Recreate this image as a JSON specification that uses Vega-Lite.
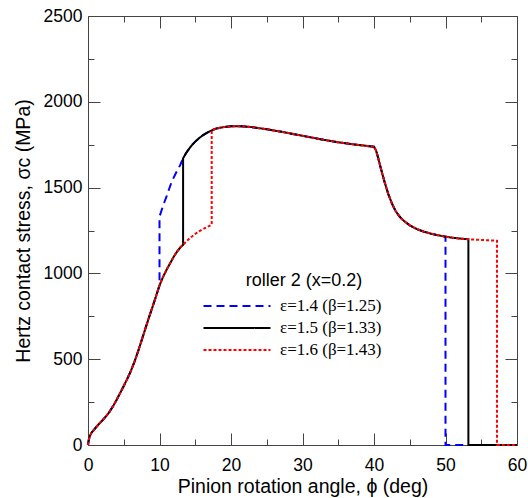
{
  "$schema": "https://vega.github.io/schema/vega-lite/v6.json",
  "width": 429,
  "height": 429,
  "autosize": "none",
  "padding": {"left": 88, "top": 16, "right": 11, "bottom": 53},
  "background": "white",
  "config": {"view": {"stroke": null}, "font": "Liberation Sans"},
  "datasets": {
    "curves": [
      {"s":"ε=1.4 (β=1.25)","x":0,"y":0},{"s":"ε=1.4 (β=1.25)","x":0.1,"y":28},{"s":"ε=1.4 (β=1.25)","x":0.25,"y":52},{"s":"ε=1.4 (β=1.25)","x":0.5,"y":72},{"s":"ε=1.4 (β=1.25)","x":1,"y":97},{"s":"ε=1.4 (β=1.25)","x":1.5,"y":121},{"s":"ε=1.4 (β=1.25)","x":2,"y":143},{"s":"ε=1.4 (β=1.25)","x":2.5,"y":166},{"s":"ε=1.4 (β=1.25)","x":3,"y":193},{"s":"ε=1.4 (β=1.25)","x":3.5,"y":226},{"s":"ε=1.4 (β=1.25)","x":4,"y":263},{"s":"ε=1.4 (β=1.25)","x":4.5,"y":303},{"s":"ε=1.4 (β=1.25)","x":5,"y":344},{"s":"ε=1.4 (β=1.25)","x":5.5,"y":386},{"s":"ε=1.4 (β=1.25)","x":6,"y":432},{"s":"ε=1.4 (β=1.25)","x":6.5,"y":485},{"s":"ε=1.4 (β=1.25)","x":7,"y":545},{"s":"ε=1.4 (β=1.25)","x":7.5,"y":610},{"s":"ε=1.4 (β=1.25)","x":8,"y":675},{"s":"ε=1.4 (β=1.25)","x":8.5,"y":740},{"s":"ε=1.4 (β=1.25)","x":9,"y":802},{"s":"ε=1.4 (β=1.25)","x":9.5,"y":865},{"s":"ε=1.4 (β=1.25)","x":10,"y":930},
      {"s":"ε=1.4 (β=1.25)","x":10,"y":1330},{"s":"ε=1.4 (β=1.25)","x":10.5,"y":1395},{"s":"ε=1.4 (β=1.25)","x":11,"y":1450},{"s":"ε=1.4 (β=1.25)","x":11.7,"y":1534},{"s":"ε=1.4 (β=1.25)","x":12.3,"y":1585},{"s":"ε=1.4 (β=1.25)","x":12.9,"y":1632},{"s":"ε=1.4 (β=1.25)","x":13.3,"y":1671},
      {"s":"ε=1.4 (β=1.25)","x":13.7,"y":1700},{"s":"ε=1.4 (β=1.25)","x":14,"y":1718},{"s":"ε=1.4 (β=1.25)","x":14.5,"y":1746},{"s":"ε=1.4 (β=1.25)","x":15,"y":1768},{"s":"ε=1.4 (β=1.25)","x":15.5,"y":1787},{"s":"ε=1.4 (β=1.25)","x":16,"y":1803},{"s":"ε=1.4 (β=1.25)","x":16.5,"y":1816},{"s":"ε=1.4 (β=1.25)","x":17,"y":1827},{"s":"ε=1.4 (β=1.25)","x":17.3,"y":1834},{"s":"ε=1.4 (β=1.25)","x":18,"y":1845},{"s":"ε=1.4 (β=1.25)","x":19,"y":1853},{"s":"ε=1.4 (β=1.25)","x":20,"y":1857},{"s":"ε=1.4 (β=1.25)","x":21,"y":1858},{"s":"ε=1.4 (β=1.25)","x":22,"y":1856},{"s":"ε=1.4 (β=1.25)","x":23,"y":1852},{"s":"ε=1.4 (β=1.25)","x":25,"y":1840},{"s":"ε=1.4 (β=1.25)","x":27.5,"y":1822},{"s":"ε=1.4 (β=1.25)","x":30,"y":1802},{"s":"ε=1.4 (β=1.25)","x":32.5,"y":1782},{"s":"ε=1.4 (β=1.25)","x":35,"y":1764},{"s":"ε=1.4 (β=1.25)","x":37.5,"y":1750},{"s":"ε=1.4 (β=1.25)","x":39,"y":1743},{"s":"ε=1.4 (β=1.25)","x":40,"y":1738},{"s":"ε=1.4 (β=1.25)","x":40.3,"y":1715},{"s":"ε=1.4 (β=1.25)","x":40.6,"y":1670},{"s":"ε=1.4 (β=1.25)","x":41,"y":1605},{"s":"ε=1.4 (β=1.25)","x":41.5,"y":1530},{"s":"ε=1.4 (β=1.25)","x":42,"y":1462},{"s":"ε=1.4 (β=1.25)","x":42.5,"y":1408},{"s":"ε=1.4 (β=1.25)","x":43,"y":1365},{"s":"ε=1.4 (β=1.25)","x":43.5,"y":1335},{"s":"ε=1.4 (β=1.25)","x":44,"y":1312},{"s":"ε=1.4 (β=1.25)","x":45,"y":1280},{"s":"ε=1.4 (β=1.25)","x":46,"y":1258},{"s":"ε=1.4 (β=1.25)","x":47,"y":1243},{"s":"ε=1.4 (β=1.25)","x":48,"y":1231},{"s":"ε=1.4 (β=1.25)","x":49,"y":1222},{"s":"ε=1.4 (β=1.25)","x":50,"y":1214},{"s":"ε=1.4 (β=1.25)","x":50,"y":0},{"s":"ε=1.4 (β=1.25)","x":60,"y":0},

      {"s":"ε=1.5 (β=1.33)","x":0,"y":0},{"s":"ε=1.5 (β=1.33)","x":0.1,"y":28},{"s":"ε=1.5 (β=1.33)","x":0.25,"y":52},{"s":"ε=1.5 (β=1.33)","x":0.5,"y":72},{"s":"ε=1.5 (β=1.33)","x":1,"y":97},{"s":"ε=1.5 (β=1.33)","x":1.5,"y":121},{"s":"ε=1.5 (β=1.33)","x":2,"y":143},{"s":"ε=1.5 (β=1.33)","x":2.5,"y":166},{"s":"ε=1.5 (β=1.33)","x":3,"y":193},{"s":"ε=1.5 (β=1.33)","x":3.5,"y":226},{"s":"ε=1.5 (β=1.33)","x":4,"y":263},{"s":"ε=1.5 (β=1.33)","x":4.5,"y":303},{"s":"ε=1.5 (β=1.33)","x":5,"y":344},{"s":"ε=1.5 (β=1.33)","x":5.5,"y":386},{"s":"ε=1.5 (β=1.33)","x":6,"y":432},{"s":"ε=1.5 (β=1.33)","x":6.5,"y":485},{"s":"ε=1.5 (β=1.33)","x":7,"y":545},{"s":"ε=1.5 (β=1.33)","x":7.5,"y":610},{"s":"ε=1.5 (β=1.33)","x":8,"y":675},{"s":"ε=1.5 (β=1.33)","x":8.5,"y":740},{"s":"ε=1.5 (β=1.33)","x":9,"y":802},{"s":"ε=1.5 (β=1.33)","x":9.5,"y":865},{"s":"ε=1.5 (β=1.33)","x":10,"y":930},
      {"s":"ε=1.5 (β=1.33)","x":10.5,"y":980},{"s":"ε=1.5 (β=1.33)","x":11,"y":1022},{"s":"ε=1.5 (β=1.33)","x":11.5,"y":1060},{"s":"ε=1.5 (β=1.33)","x":12,"y":1098},{"s":"ε=1.5 (β=1.33)","x":12.5,"y":1130},{"s":"ε=1.5 (β=1.33)","x":13,"y":1155},{"s":"ε=1.5 (β=1.33)","x":13.3,"y":1166},{"s":"ε=1.5 (β=1.33)","x":13.3,"y":1671},
      {"s":"ε=1.5 (β=1.33)","x":13.7,"y":1700},{"s":"ε=1.5 (β=1.33)","x":14,"y":1718},{"s":"ε=1.5 (β=1.33)","x":14.5,"y":1746},{"s":"ε=1.5 (β=1.33)","x":15,"y":1768},{"s":"ε=1.5 (β=1.33)","x":15.5,"y":1787},{"s":"ε=1.5 (β=1.33)","x":16,"y":1803},{"s":"ε=1.5 (β=1.33)","x":16.5,"y":1816},{"s":"ε=1.5 (β=1.33)","x":17,"y":1827},{"s":"ε=1.5 (β=1.33)","x":17.3,"y":1834},{"s":"ε=1.5 (β=1.33)","x":18,"y":1845},{"s":"ε=1.5 (β=1.33)","x":19,"y":1853},{"s":"ε=1.5 (β=1.33)","x":20,"y":1857},{"s":"ε=1.5 (β=1.33)","x":21,"y":1858},{"s":"ε=1.5 (β=1.33)","x":22,"y":1856},{"s":"ε=1.5 (β=1.33)","x":23,"y":1852},{"s":"ε=1.5 (β=1.33)","x":25,"y":1840},{"s":"ε=1.5 (β=1.33)","x":27.5,"y":1822},{"s":"ε=1.5 (β=1.33)","x":30,"y":1802},{"s":"ε=1.5 (β=1.33)","x":32.5,"y":1782},{"s":"ε=1.5 (β=1.33)","x":35,"y":1764},{"s":"ε=1.5 (β=1.33)","x":37.5,"y":1750},{"s":"ε=1.5 (β=1.33)","x":39,"y":1743},{"s":"ε=1.5 (β=1.33)","x":40,"y":1738},{"s":"ε=1.5 (β=1.33)","x":40.3,"y":1715},{"s":"ε=1.5 (β=1.33)","x":40.6,"y":1670},{"s":"ε=1.5 (β=1.33)","x":41,"y":1605},{"s":"ε=1.5 (β=1.33)","x":41.5,"y":1530},{"s":"ε=1.5 (β=1.33)","x":42,"y":1462},{"s":"ε=1.5 (β=1.33)","x":42.5,"y":1408},{"s":"ε=1.5 (β=1.33)","x":43,"y":1365},{"s":"ε=1.5 (β=1.33)","x":43.5,"y":1335},{"s":"ε=1.5 (β=1.33)","x":44,"y":1312},{"s":"ε=1.5 (β=1.33)","x":45,"y":1280},{"s":"ε=1.5 (β=1.33)","x":46,"y":1258},{"s":"ε=1.5 (β=1.33)","x":47,"y":1243},{"s":"ε=1.5 (β=1.33)","x":48,"y":1231},{"s":"ε=1.5 (β=1.33)","x":49,"y":1222},{"s":"ε=1.5 (β=1.33)","x":50,"y":1214},{"s":"ε=1.5 (β=1.33)","x":51,"y":1208},{"s":"ε=1.5 (β=1.33)","x":52,"y":1203},{"s":"ε=1.5 (β=1.33)","x":53.2,"y":1199},{"s":"ε=1.5 (β=1.33)","x":53.2,"y":0},{"s":"ε=1.5 (β=1.33)","x":60,"y":0},

      {"s":"ε=1.6 (β=1.43)","x":0,"y":0},{"s":"ε=1.6 (β=1.43)","x":0.1,"y":28},{"s":"ε=1.6 (β=1.43)","x":0.25,"y":52},{"s":"ε=1.6 (β=1.43)","x":0.5,"y":72},{"s":"ε=1.6 (β=1.43)","x":1,"y":97},{"s":"ε=1.6 (β=1.43)","x":1.5,"y":121},{"s":"ε=1.6 (β=1.43)","x":2,"y":143},{"s":"ε=1.6 (β=1.43)","x":2.5,"y":166},{"s":"ε=1.6 (β=1.43)","x":3,"y":193},{"s":"ε=1.6 (β=1.43)","x":3.5,"y":226},{"s":"ε=1.6 (β=1.43)","x":4,"y":263},{"s":"ε=1.6 (β=1.43)","x":4.5,"y":303},{"s":"ε=1.6 (β=1.43)","x":5,"y":344},{"s":"ε=1.6 (β=1.43)","x":5.5,"y":386},{"s":"ε=1.6 (β=1.43)","x":6,"y":432},{"s":"ε=1.6 (β=1.43)","x":6.5,"y":485},{"s":"ε=1.6 (β=1.43)","x":7,"y":545},{"s":"ε=1.6 (β=1.43)","x":7.5,"y":610},{"s":"ε=1.6 (β=1.43)","x":8,"y":675},{"s":"ε=1.6 (β=1.43)","x":8.5,"y":740},{"s":"ε=1.6 (β=1.43)","x":9,"y":802},{"s":"ε=1.6 (β=1.43)","x":9.5,"y":865},{"s":"ε=1.6 (β=1.43)","x":10,"y":930},
      {"s":"ε=1.6 (β=1.43)","x":10.5,"y":980},{"s":"ε=1.6 (β=1.43)","x":11,"y":1022},{"s":"ε=1.6 (β=1.43)","x":11.5,"y":1060},{"s":"ε=1.6 (β=1.43)","x":12,"y":1098},{"s":"ε=1.6 (β=1.43)","x":12.5,"y":1130},{"s":"ε=1.6 (β=1.43)","x":13,"y":1155},{"s":"ε=1.6 (β=1.43)","x":13.3,"y":1166},
      {"s":"ε=1.6 (β=1.43)","x":13.6,"y":1180},{"s":"ε=1.6 (β=1.43)","x":14,"y":1196},{"s":"ε=1.6 (β=1.43)","x":14.5,"y":1214},{"s":"ε=1.6 (β=1.43)","x":15,"y":1230},{"s":"ε=1.6 (β=1.43)","x":15.5,"y":1244},{"s":"ε=1.6 (β=1.43)","x":16,"y":1256},{"s":"ε=1.6 (β=1.43)","x":16.5,"y":1267},{"s":"ε=1.6 (β=1.43)","x":17,"y":1277},{"s":"ε=1.6 (β=1.43)","x":17.3,"y":1284},{"s":"ε=1.6 (β=1.43)","x":17.3,"y":1834},
      {"s":"ε=1.6 (β=1.43)","x":18,"y":1845},{"s":"ε=1.6 (β=1.43)","x":19,"y":1853},{"s":"ε=1.6 (β=1.43)","x":20,"y":1857},{"s":"ε=1.6 (β=1.43)","x":21,"y":1858},{"s":"ε=1.6 (β=1.43)","x":22,"y":1856},{"s":"ε=1.6 (β=1.43)","x":23,"y":1852},{"s":"ε=1.6 (β=1.43)","x":25,"y":1840},{"s":"ε=1.6 (β=1.43)","x":27.5,"y":1822},{"s":"ε=1.6 (β=1.43)","x":30,"y":1802},{"s":"ε=1.6 (β=1.43)","x":32.5,"y":1782},{"s":"ε=1.6 (β=1.43)","x":35,"y":1764},{"s":"ε=1.6 (β=1.43)","x":37.5,"y":1750},{"s":"ε=1.6 (β=1.43)","x":39,"y":1743},{"s":"ε=1.6 (β=1.43)","x":40,"y":1738},{"s":"ε=1.6 (β=1.43)","x":40.3,"y":1715},{"s":"ε=1.6 (β=1.43)","x":40.6,"y":1670},{"s":"ε=1.6 (β=1.43)","x":41,"y":1605},{"s":"ε=1.6 (β=1.43)","x":41.5,"y":1530},{"s":"ε=1.6 (β=1.43)","x":42,"y":1462},{"s":"ε=1.6 (β=1.43)","x":42.5,"y":1408},{"s":"ε=1.6 (β=1.43)","x":43,"y":1365},{"s":"ε=1.6 (β=1.43)","x":43.5,"y":1335},{"s":"ε=1.6 (β=1.43)","x":44,"y":1312},{"s":"ε=1.6 (β=1.43)","x":45,"y":1280},{"s":"ε=1.6 (β=1.43)","x":46,"y":1258},{"s":"ε=1.6 (β=1.43)","x":47,"y":1243},{"s":"ε=1.6 (β=1.43)","x":48,"y":1231},{"s":"ε=1.6 (β=1.43)","x":49,"y":1222},{"s":"ε=1.6 (β=1.43)","x":50,"y":1214},{"s":"ε=1.6 (β=1.43)","x":51,"y":1208},{"s":"ε=1.6 (β=1.43)","x":52,"y":1203},{"s":"ε=1.6 (β=1.43)","x":53.2,"y":1199},{"s":"ε=1.6 (β=1.43)","x":54,"y":1197},{"s":"ε=1.6 (β=1.43)","x":55,"y":1195},{"s":"ε=1.6 (β=1.43)","x":56,"y":1193},{"s":"ε=1.6 (β=1.43)","x":57.2,"y":1190},{"s":"ε=1.6 (β=1.43)","x":57.2,"y":0},{"s":"ε=1.6 (β=1.43)","x":60,"y":0}
    ]
  },
  "data": {"name": "curves"},
  "layer": [
    {
      "mark": {"type": "line", "strokeWidth": 2},
      "encoding": {
        "x": {
          "field": "x", "type": "quantitative",
          "scale": {"domain": [0, 60], "nice": false, "zero": false},
          "axis": {
            "orient": "bottom",
            "values": [0,5,10,15,20,25,30,35,40,45,50,55,60],
            "labelExpr": "datum.value % 10 === 0 ? datum.label : ''",
            "tickSize": {"condition": {"test": "datum.value % 10 === 0", "value": -12}, "value": -6},
            "labelPadding": 23,
            "labelFlush": false,
            "labelFont": "Liberation Sans", "labelFontSize": 17.5, "labelColor": "black",
            "domainColor": "#444", "tickColor": "#444",
            "grid": false,
            "title": "Pinion rotation angle, ϕ (deg)",
            "titleFont": "Liberation Sans", "titleFontSize": 19.5, "titleFontWeight": "normal", "titleColor": "black",
            "titlePadding": 4
          }
        },
        "y": {
          "field": "y", "type": "quantitative",
          "scale": {"domain": [0, 2500], "nice": false},
          "axis": {
            "orient": "left",
            "values": [0,250,500,750,1000,1250,1500,1750,2000,2250,2500],
            "format": "d",
            "labelExpr": "datum.value % 500 === 0 ? datum.label : ''",
            "tickSize": {"condition": {"test": "datum.value % 500 === 0", "value": -12}, "value": -6},
            "labelPadding": 18,
            "labelFlush": false,
            "labelFont": "Liberation Sans", "labelFontSize": 17.5, "labelColor": "black",
            "domainColor": "#444", "tickColor": "#444",
            "grid": false,
            "title": "Hertz contact stress, σc (MPa)",
            "titleFont": "Liberation Sans", "titleFontSize": 19.5, "titleFontWeight": "normal", "titleColor": "black",
            "titlePadding": 10
          }
        },
        "color": {
          "field": "s", "type": "nominal",
          "scale": {"domain": ["ε=1.4 (β=1.25)", "ε=1.5 (β=1.33)", "ε=1.6 (β=1.43)"], "range": ["#0000ff", "#000000", "#ff0000"]},
          "legend": {
            "title": "roller 2 (x=0.2)",
            "orient": "none", "legendX": 138, "legendY": 256,
            "padding": 0,
            "titleAnchor": "middle",
            "titleFont": "Liberation Sans", "titleFontSize": 18, "titleFontWeight": "normal", "titleColor": "black",
            "titlePadding": 5,
            "labelFont": "Liberation Serif", "labelFontSize": 17, "labelColor": "black", "labelLimit": 300,
            "symbolType": "M-3.35,0H3.35", "symbolSize": 400, "symbolStrokeWidth": 2,
            "labelOffset": 32, "rowPadding": 3
          }
        },
        "strokeDash": {
          "field": "s", "type": "nominal",
          "scale": {"domain": ["ε=1.4 (β=1.25)", "ε=1.5 (β=1.33)", "ε=1.6 (β=1.43)"], "range": [[8, 5], [1, 0], [3, 2]]}
        },
        "order": {"value": null}
      }
    },
    {
      "mark": {"type": "point", "opacity": 0},
      "encoding": {
        "x": {
          "field": "x", "type": "quantitative",
          "axis": {
            "orient": "top",
            "values": [0,5,10,15,20,25,30,35,40,45,50,55,60],
            "labels": false,
            "tickSize": {"condition": {"test": "datum.value % 10 === 0", "value": -12}, "value": -6},
            "domainColor": "#444", "tickColor": "#444", "grid": false, "title": null
          }
        },
        "y": {
          "field": "y", "type": "quantitative",
          "axis": {
            "orient": "right",
            "values": [0,250,500,750,1000,1250,1500,1750,2000,2250,2500],
            "labels": false,
            "tickSize": {"condition": {"test": "datum.value % 500 === 0", "value": -12}, "value": -6},
            "domainColor": "#444", "tickColor": "#444", "grid": false, "title": null
          }
        }
      }
    }
  ],
  "resolve": {"axis": {"x": "independent", "y": "independent"}}
}
